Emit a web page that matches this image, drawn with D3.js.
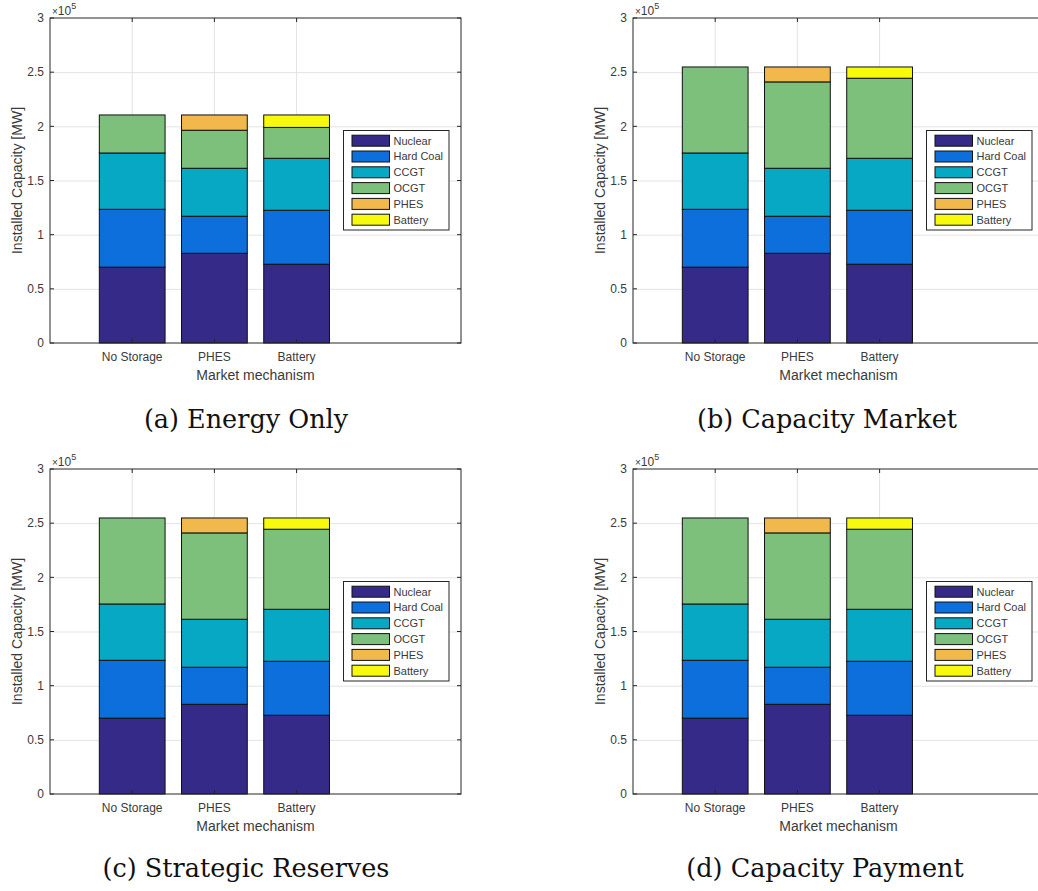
<!DOCTYPE html>
<html>
<head>
<meta charset="utf-8">
<script src="https://cdn.jsdelivr.net/npm/d3@7"></script>
<style>
html,body{margin:0;padding:0;background:#fff;}
svg{display:block;}
</style>
</head>
<body>
<script>
// ---- data ----
const categories = ["No Storage", "PHES", "Battery"];
const technologies = ["Nuclear", "Hard Coal", "CCGT", "OCGT", "PHES", "Battery"];
const techColors = ["#352a87", "#0d6fdb", "#07a8c3", "#7dc07c", "#f1b84b", "#f8fa0e"];
const yTicks = [0, 0.5e5, 1e5, 1.5e5, 2e5, 2.5e5, 3e5];
const yTickLabels = ["0", "0.5", "1", "1.5", "2", "2.5", "3"];

// installed capacity [MW] per technology, per market mechanism
const nuclear  = [70000, 82800, 72700];
const hardCoal = [53400, 34200, 49800];
const ccgt     = [52000, 44300, 48000];

const ocgtEnergyOnly     = [35100, 35100, 28500];
const phesEnergyOnly     = [0, 14100, 0];
const batteryEnergyOnly  = [0, 0, 11500];

const ocgtCapacityMarket    = [79400, 79700, 73900];
const phesCapacityMarket    = [0, 13800, 0];
const batteryCapacityMarket = [0, 0, 10400];

const ocgtStrategicReserves    = [79400, 79700, 73900];
const phesStrategicReserves    = [0, 13800, 0];
const batteryStrategicReserves = [0, 0, 10400];

const ocgtCapacityPayment    = [79400, 79700, 73900];
const phesCapacityPayment    = [0, 13800, 0];
const batteryCapacityPayment = [0, 0, 10400];

const panels = [
  {caption: "(a) Energy Only", series: [nuclear, hardCoal, ccgt, ocgtEnergyOnly, phesEnergyOnly, batteryEnergyOnly]},
  {caption: "(b) Capacity Market", series: [nuclear, hardCoal, ccgt, ocgtCapacityMarket, phesCapacityMarket, batteryCapacityMarket]},
  {caption: "(c) Strategic Reserves", series: [nuclear, hardCoal, ccgt, ocgtStrategicReserves, phesStrategicReserves, batteryStrategicReserves]},
  {caption: "(d) Capacity Payment", series: [nuclear, hardCoal, ccgt, ocgtCapacityPayment, phesCapacityPayment, batteryCapacityPayment]}
];

// ---- layout ----
const W = 1038, H = 891;
const axW = 411, axH = 325;
const origins = [[50, 18], [633, 18], [50, 469], [633, 469]];
const captionPos = [[246, 428], [827, 428], [246, 877], [825, 877]];
const axisColor = "#262626";
const textColor = "#3a3a3a";

const svg = d3.select("body").append("svg").attr("width", W).attr("height", H)
  .style("font-family", "'Liberation Sans', Arial, sans-serif");
svg.append("rect").attr("width", W).attr("height", H).attr("fill", "#fff");

const x = d3.scaleLinear().domain([0, 5]).range([0, axW]);
const y = d3.scaleLinear().domain([0, 3e5]).range([axH, 0]);
const barW = x(0.8) - x(0);

panels.forEach((p, pi) => {
  const [ox, oy] = origins[pi];
  const g = svg.append("g").attr("transform", `translate(${ox},${oy})`);

  // grid
  g.append("g").selectAll("line").data(yTicks.slice(1, -1)).join("line")
    .attr("x1", 0).attr("x2", axW).attr("y1", d => y(d) + 0.5).attr("y2", d => y(d) + 0.5)
    .attr("stroke", "#e3e3e3").attr("stroke-width", 1);
  g.append("g").selectAll("line").data(categories).join("line")
    .attr("x1", (d, i) => x(i + 1)).attr("x2", (d, i) => x(i + 1)).attr("y1", 0).attr("y2", axH)
    .attr("stroke", "#e3e3e3").attr("stroke-width", 1);

  // stacked data
  const rows = categories.map((c, i) => {
    const r = {cat: c, idx: i};
    technologies.forEach((t, ti) => r[t] = p.series[ti][i]);
    return r;
  });
  const stack = d3.stack().keys(technologies)(rows);
  stack.forEach((layer, li) => {
    g.append("g").selectAll("rect").data(layer.filter(d => d[1] - d[0] > 0)).join("rect")
      .attr("x", d => x(d.data.idx + 1) - barW / 2)
      .attr("width", barW)
      .attr("y", d => y(d[1]))
      .attr("height", d => y(d[0]) - y(d[1]))
      .attr("fill", techColors[li])
      .attr("stroke", "#111").attr("stroke-width", 1);
  });

  // axes box
  g.append("rect").attr("x", 0).attr("y", 0).attr("width", axW).attr("height", axH)
    .attr("fill", "none").attr("stroke", axisColor).attr("stroke-width", 1);

  // ticks (inward, both sides)
  const tl = 4;
  yTicks.forEach(t => {
    g.append("line").attr("x1", 0).attr("x2", tl).attr("y1", y(t)).attr("y2", y(t)).attr("stroke", axisColor);
    g.append("line").attr("x1", axW - tl).attr("x2", axW).attr("y1", y(t)).attr("y2", y(t)).attr("stroke", axisColor);
  });
  categories.forEach((c, i) => {
    g.append("line").attr("x1", x(i + 1)).attr("x2", x(i + 1)).attr("y1", axH).attr("y2", axH - tl).attr("stroke", axisColor);
    g.append("line").attr("x1", x(i + 1)).attr("x2", x(i + 1)).attr("y1", 0).attr("y2", tl).attr("stroke", axisColor);
  });

  // y tick labels
  g.append("g").selectAll("text").data(yTicks).join("text")
    .attr("x", -6).attr("y", d => y(d)).attr("dy", "0.35em")
    .attr("text-anchor", "end").attr("font-size", 12).attr("fill", textColor)
    .text((d, i) => yTickLabels[i]);

  // x tick labels
  g.append("g").selectAll("text").data(categories).join("text")
    .attr("x", (d, i) => x(i + 1)).attr("y", axH + 18)
    .attr("text-anchor", "middle").attr("font-size", 12).attr("fill", textColor)
    .text(d => d);

  // axis labels
  g.append("text").attr("x", axW / 2).attr("y", axH + 37)
    .attr("text-anchor", "middle").attr("font-size", 14).attr("fill", textColor)
    .text("Market mechanism");
  g.append("text").attr("transform", `translate(-28,${axH / 2}) rotate(-90)`)
    .attr("text-anchor", "middle").attr("font-size", 14).attr("fill", textColor)
    .text("Installed Capacity [MW]");

  // exponent
  const ex = g.append("text").attr("x", 2).attr("y", -3).attr("font-size", 12).attr("fill", textColor);
  ex.append("tspan").attr("font-size", 10).text("×");
  ex.append("tspan").text("10");
  ex.append("tspan").attr("font-size", 9).attr("dy", -6).text("5");

  // legend
  const lg = g.append("g").attr("transform", "translate(293.5,112.5)");
  lg.append("rect").attr("width", 105.5).attr("height", 99.5)
    .attr("fill", "#fff").attr("stroke", axisColor).attr("stroke-width", 1);
  technologies.forEach((t, ti) => {
    const cy = 10.2 + ti * 15.8;
    lg.append("rect").attr("x", 8.5).attr("y", cy - 5.5).attr("width", 37.5).attr("height", 11)
      .attr("fill", techColors[ti]).attr("stroke", "#111").attr("stroke-width", 1);
    lg.append("text").attr("x", 50).attr("y", cy).attr("dy", "0.35em")
      .attr("font-size", 11).attr("fill", textColor).text(t);
  });

  // caption
  svg.append("text").attr("x", captionPos[pi][0]).attr("y", captionPos[pi][1])
    .attr("text-anchor", "middle")
    .style("font-family", "'DejaVu Serif', serif").attr("font-size", 25.5).attr("fill", "#111")
    .text(p.caption);
});
</script>
</body>
</html>
